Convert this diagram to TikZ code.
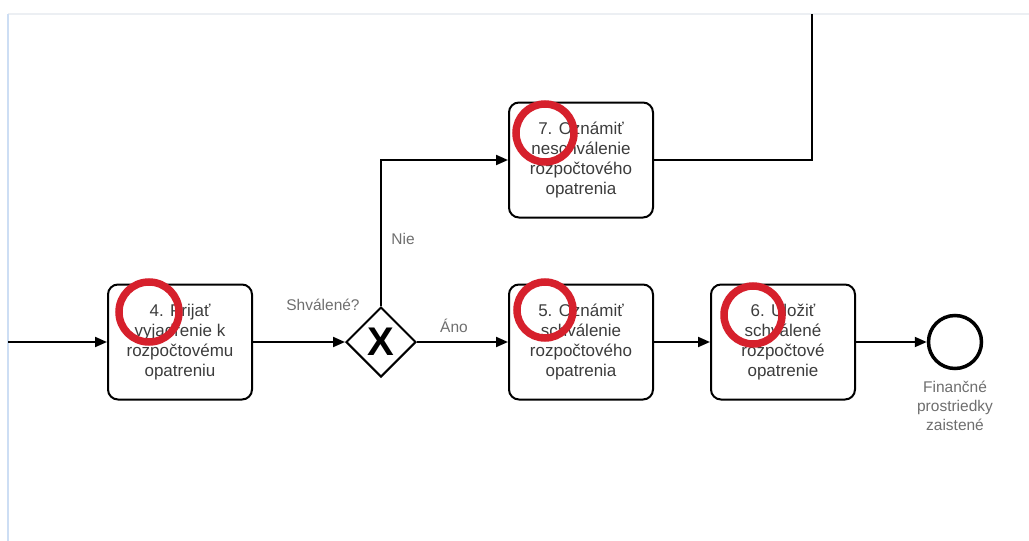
\documentclass[tikz,border=0pt]{standalone}
\usepackage{fontspec}
\setmainfont{Liberation Sans}
\usetikzlibrary{arrows.meta,shapes.geometric}
\definecolor{ringred}{RGB}{214,32,44}
\definecolor{txtgray}{RGB}{60,60,60}
\definecolor{lblgray}{RGB}{110,110,110}
\definecolor{framegray}{RGB}{236,239,243}
\definecolor{frameblue}{RGB}{205,222,244}
\begin{document}
\begin{tikzpicture}[x=1pt, y=-1pt,
  task/.style={draw, line width=2pt, rounded corners=10pt, minimum width=144pt,
    minimum height=115pt, align=center, text=txtgray, inner sep=2pt,
    font=\fontsize{17}{20}\selectfont},
  gate/.style={draw, diamond, line width=2pt, minimum width=70pt,
    minimum height=70pt, inner sep=0pt, font=\fontsize{40}{40}\selectfont\bfseries},
  endev/.style={draw, circle, line width=3.5pt, minimum size=53pt, inner sep=0pt},
  lbl/.style={text=lblgray, align=center, font=\fontsize{15.5}{19}\selectfont},
  flow/.style={line width=2pt, -{Triangle[length=12pt,width=10pt]}},
  ring/.style={draw=ringred, line width=7.5pt}]
\useasboundingbox (0, 0) rectangle (1029, 541);
\draw[framegray, line width=1.5pt] (8, 14) -- (1029, 14);
\draw[frameblue, line width=1.5pt] (8, 14) -- (8, 541);

\draw (180, 342) node[task] (t4) {4. Prijať\\vyjadrenie k\\rozpočtovému\\opatreniu};
\draw (381, 342) node[gate] (gw) {X};
\draw (581, 160) node[task] (t7) {7. Oznámiť\\neschválenie\\rozpočtového\\opatrenia};
\draw (581, 342) node[task] (t5) {5. Oznámiť\\schválenie\\rozpočtového\\opatrenia};
\draw (783, 342) node[task] (t6) {6. Uložiť\\schválené\\rozpočtové\\opatrenie};
\draw (955, 342) node[endev] (e) {};
\draw (955, 406) node[lbl] (el) {Finančné\\prostriedky\\zaistené};
\coordinate (in) at (8, 342);
\coordinate (up) at (812, 14);

\draw[flow] (in) -- (t4);
\draw[flow] (t4) -- (gw);
\draw[flow] (gw.north) |- (t7.west);
\draw[flow] (gw) -- (t5);
\draw[flow] (t5) -- (t6);
\draw[flow] (t6) -- (e);
\draw[line width=2pt] (t7.east) -| (up);

\draw (323, 305) node[lbl] (q) {Shválené?};
\draw (403, 239) node[lbl] (no) {Nie};
\draw (454, 326) node[lbl] (yes) {Áno};

\draw[ring] (149, 312) circle (30);
\draw[ring] (545, 133) circle (29);
\draw[ring] (545, 310) circle (28);
\draw[ring] (753, 315) circle (29);
\end{tikzpicture}
\end{document}
